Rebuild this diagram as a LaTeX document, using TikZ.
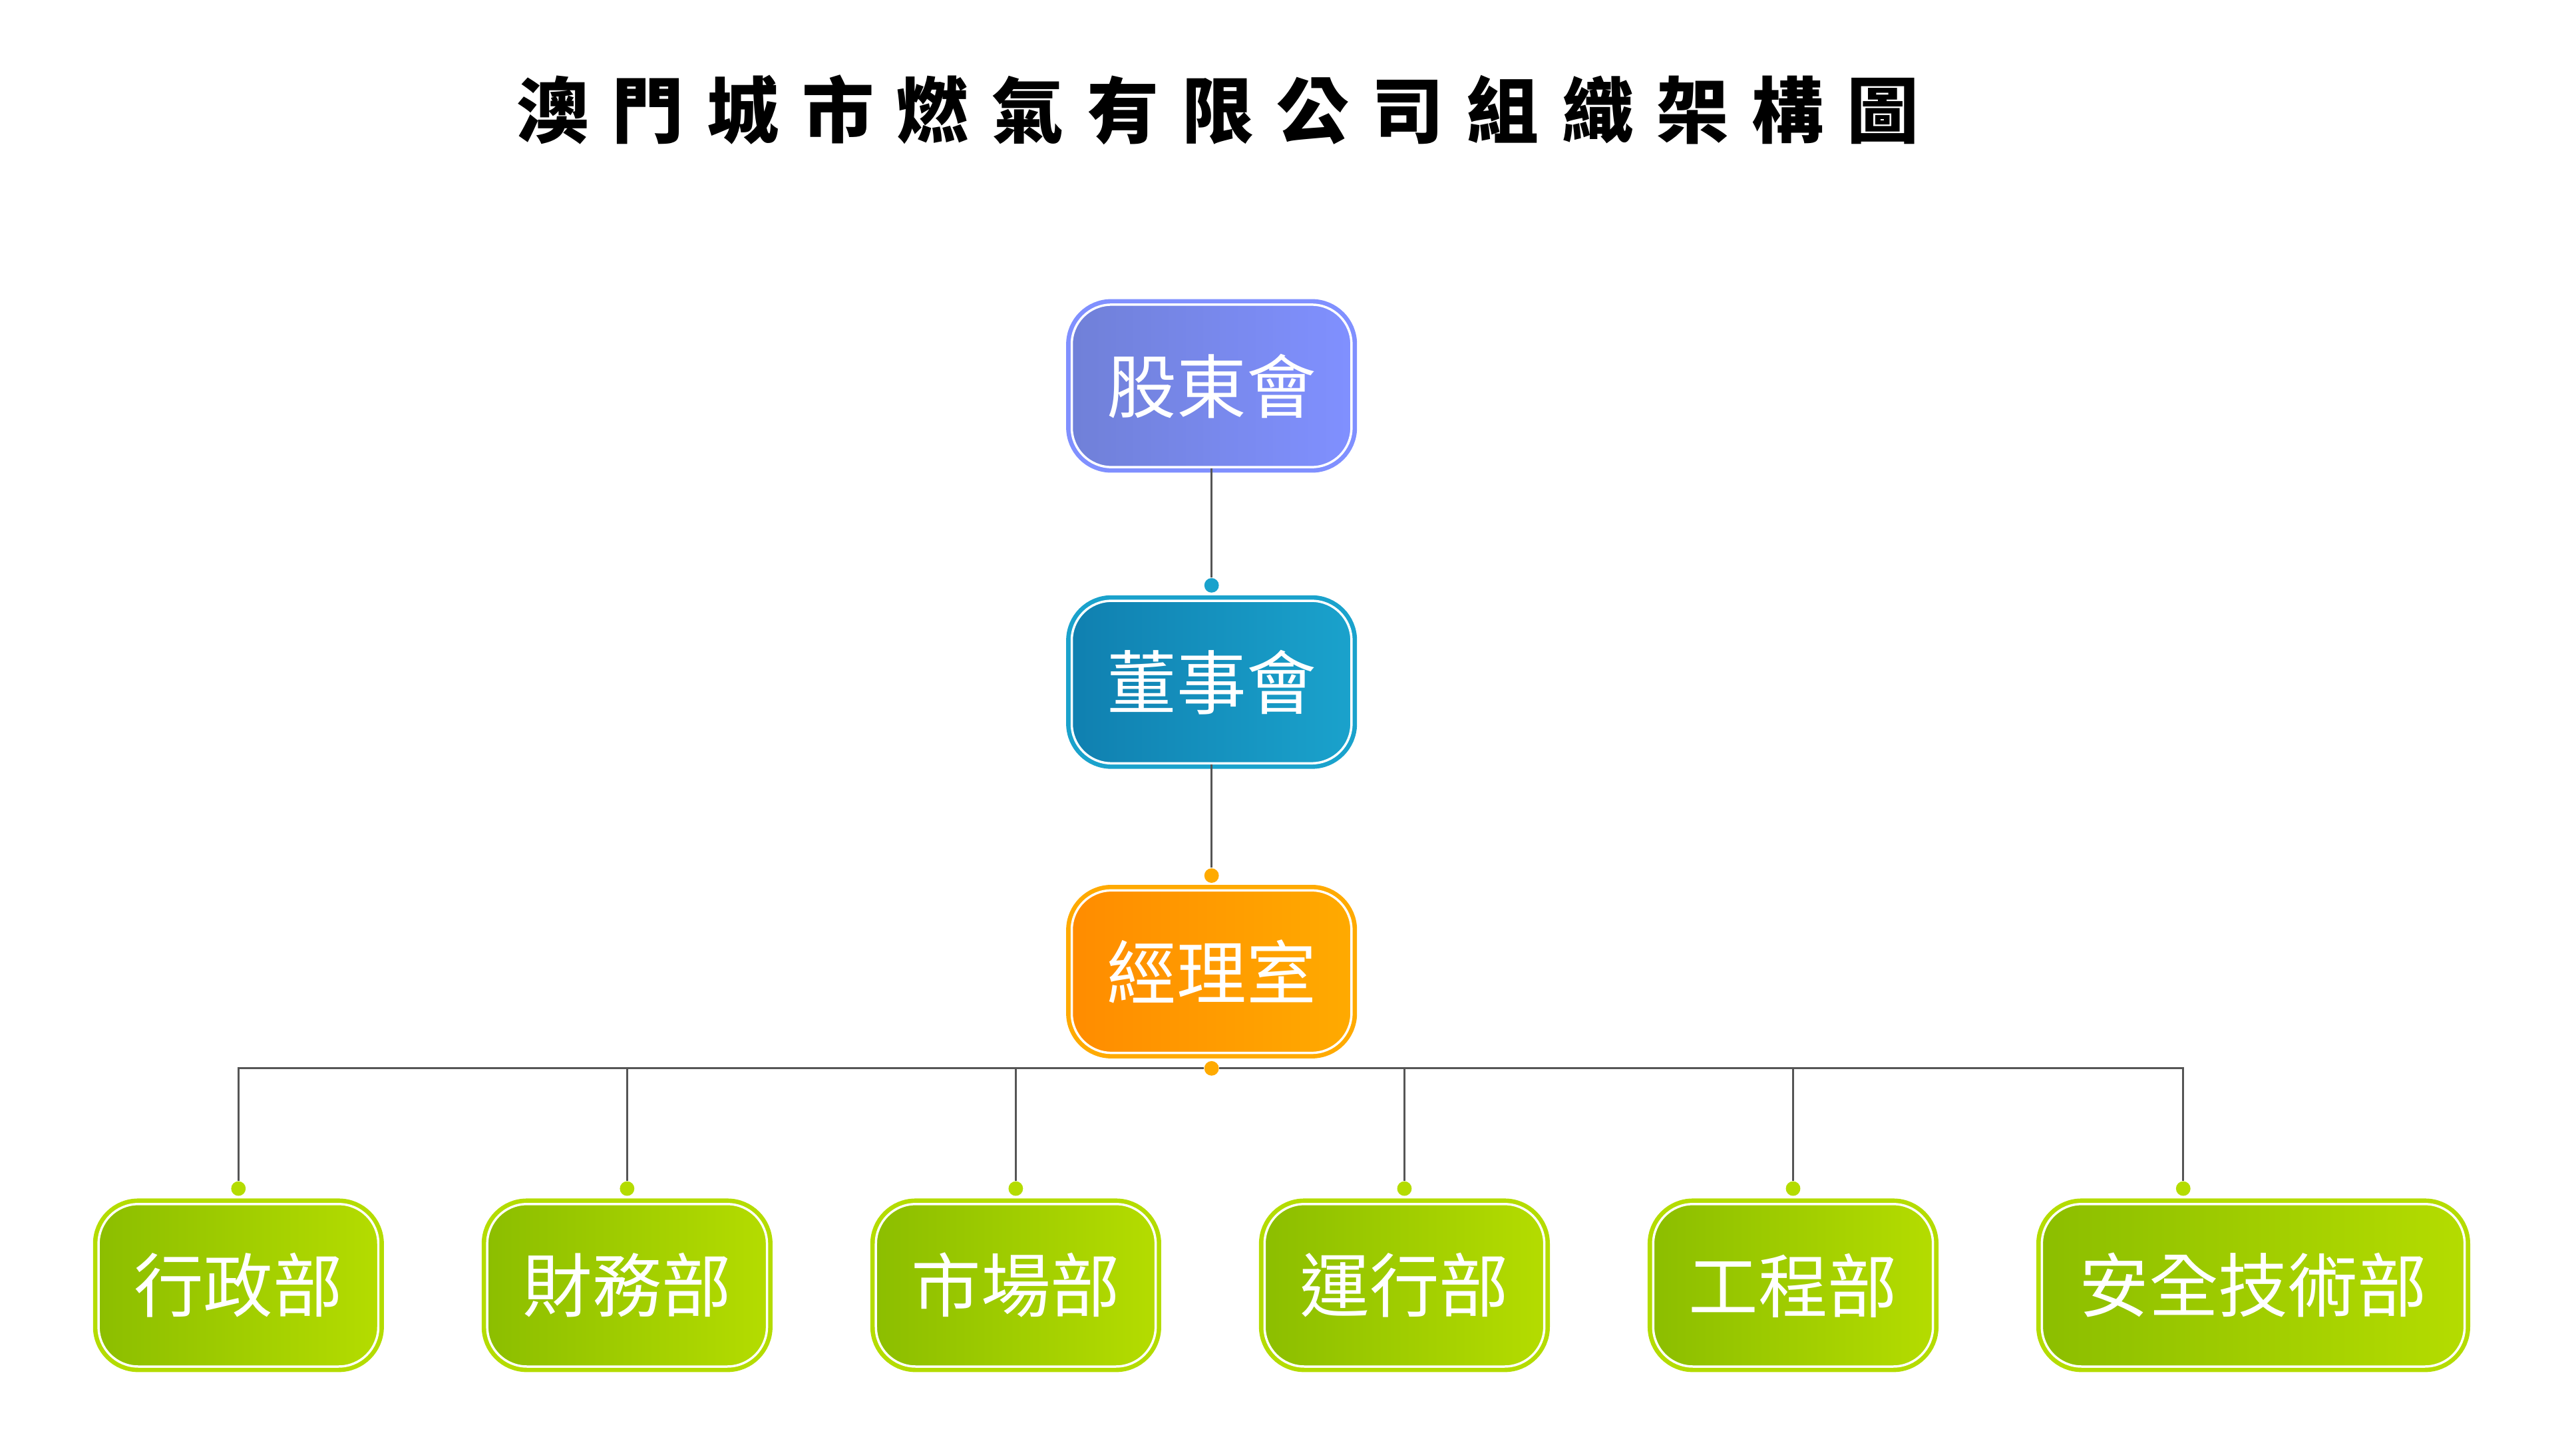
\documentclass[tikz,border=0pt]{standalone}
\usepackage{fontspec}
\usepackage{tikz}
\usetikzlibrary{positioning}
\newfontfamily\cjk{Noto Sans CJK TC}
\newfontfamily\cjktitle[LetterSpace=32]{Noto Sans CJK TC}
\definecolor{purpleL}{RGB}{112, 128, 216}
\definecolor{purpleR}{RGB}{128, 144, 255}
\definecolor{tealL}{RGB}{16, 128, 176}
\definecolor{tealR}{RGB}{26, 162, 204}
\definecolor{orangeL}{RGB}{255, 140, 0}
\definecolor{orangeR}{RGB}{255, 170, 0}
\definecolor{greenL}{RGB}{140, 190, 0}
\definecolor{greenR}{RGB}{180, 220, 0}
\definecolor{linegray}{RGB}{85, 85, 85}

\begin{document}
\begin{tikzpicture}[node distance=1.614cm]
\tikzstyle{unit} = [rectangle, rounded corners=0.6cm, minimum width=4.235cm, minimum height=2.46cm, inner xsep=0.53cm, draw=white, line width=1pt, text=white, font=\cjk\fontsize{30pt}{30pt}\selectfont]
\tikzstyle{shareholder} = [unit, preaction={draw=purpleR, line width=4.8pt}, left color=purpleL, middle color=purpleR, right color=purpleR]
\tikzstyle{director} = [unit, preaction={draw=tealR, line width=4.8pt}, left color=tealL, middle color=tealR, right color=tealR]
\tikzstyle{manager} = [unit, preaction={draw=orangeR, line width=4.8pt}, left color=orangeL, middle color=orangeR, right color=orangeR]
\tikzstyle{dept} = [unit, preaction={draw=greenR, line width=4.8pt}, left color=greenL, middle color=greenR, right color=greenR]
\tikzstyle{pin} = [circle, inner sep=0pt, minimum size=0.22cm]
\tikzstyle{link} = [draw=linegray, line width=0.9pt]

\useasboundingbox (0,0) rectangle (39,22.024);

\node (title) at (18.44,20.36) {\cjktitle\fontsize{31pt}{31pt}\selectfont\bfseries 澳門城市燃氣有限公司組織架構圖};

\node (shareholders) [shareholder] at (18.343,16.18) {股東會};
\node (board) [director, below=1.99cm of shareholders] {董事會};
\node (office) [manager, below=1.89cm of board] {經理室};

\node (admin) [dept] at (3.61,2.56) {行政部};
\node (finance) [dept, right=of admin] {財務部};
\node (market) [dept, right=of finance] {市場部};
\node (operation) [dept, right=of market] {運行部};
\node (engineering) [dept, right=of operation] {工程部};
\node (safety) [dept, minimum width=6.4cm, right=of engineering] {安全技術部};

% dots
\node (boardpin) [pin, fill=tealR, above=0.1cm of board] {};
\node (officepin) [pin, fill=orangeR, above=0.09cm of office] {};
\node (buspin) [pin, fill=orangeR, below=0.1cm of office] {};
\node (adminpin) [pin, fill=greenR, above=0.1cm of admin] {};
\node (financepin) [pin, fill=greenR, above=0.1cm of finance] {};
\node (marketpin) [pin, fill=greenR, above=0.1cm of market] {};
\node (operationpin) [pin, fill=greenR, above=0.1cm of operation] {};
\node (engineeringpin) [pin, fill=greenR, above=0.1cm of engineering] {};
\node (safetypin) [pin, fill=greenR, above=0.1cm of safety, xshift=-1.06cm] {};

\draw [link] (shareholders) -- (boardpin);
\draw [link] (board) -- (officepin);
\draw [link] (buspin.west) -| (adminpin.north);
\draw [link] (buspin.west) -| (financepin.north);
\draw [link] (buspin.west) -| (marketpin.north);
\draw [link] (buspin.east) -| (operationpin.north);
\draw [link] (buspin.east) -| (engineeringpin.north);
\draw [link] (buspin.east) -| (safetypin.north);
\end{tikzpicture}
\end{document}
